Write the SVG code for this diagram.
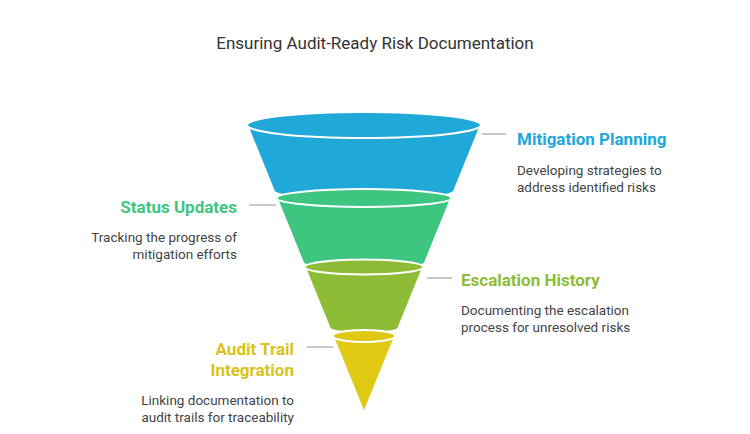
<svg xmlns="http://www.w3.org/2000/svg" width="750" height="434" viewBox="0 0 750 434">
<style>
text{font-family:Roboto,"Liberation Sans",sans-serif}
.h{font-size:17px;font-weight:bold}
.d{font-size:13.5px;fill:#444}
.seg{stroke:#fff;stroke-width:2}
.c{stroke:#c8c8c8;stroke-width:2;fill:none}
</style>
<rect width="750" height="434" fill="#fff"/>
<text x="375" y="49" text-anchor="middle" font-size="17" fill="#333">Ensuring Audit-Ready Risk Documentation</text>
<g id="connectors">
<line class="c" x1="482" y1="134" x2="506" y2="134"/>
<line class="c" x1="249" y1="205" x2="276" y2="205"/>
<line class="c" x1="427" y1="278" x2="452" y2="278"/>
<line class="c" x1="307" y1="347" x2="333" y2="347"/>
</g>
<g id="seg1">
<path class="seg" fill="#1fa8d8" d="M247,125 L273.4,190 A90.6,11 0 0 0 454.6,190 L481,125 Z"/>
<ellipse class="seg" fill="#1fa8d8" cx="364" cy="125" rx="117" ry="13"/>
</g>
<g id="seg2">
<path class="seg" fill="#3ec57f" d="M276.7,198 L302.7,262 A61.3,8 0 0 0 425.3,262 L451.3,198 Z"/>
<ellipse class="seg" fill="#3ec57f" cx="364" cy="198" rx="87.3" ry="9"/>
</g>
<g id="seg3">
<path class="seg" fill="#8fbc37" d="M304.7,267 L329.5,328 A34.5,5 0 0 0 398.5,328 L423.3,267 Z"/>
<ellipse class="seg" fill="#8fbc37" cx="364" cy="267" rx="59.3" ry="7.5"/>
</g>
<g id="seg4">
<path class="seg" fill="#dfc912" d="M332.7,336 L364,413 L395.3,336 Z"/>
<ellipse class="seg" fill="#dfc912" cx="364" cy="336" rx="31.3" ry="6"/>
</g>
<g id="label1">
<text class="h" x="517" y="145" fill="#22a7da">Mitigation Planning</text>
<text class="d" x="517" y="175">Developing strategies to</text>
<text class="d" x="517" y="192">address identified risks</text>
</g>
<g id="label2">
<text class="h" x="237" y="213" text-anchor="end" fill="#3ec57f">Status Updates</text>
<text class="d" x="237" y="242" text-anchor="end">Tracking the progress of</text>
<text class="d" x="237" y="259" text-anchor="end">mitigation efforts</text>
</g>
<g id="label3">
<text class="h" x="461" y="286" fill="#8fbc37">Escalation History</text>
<text class="d" x="461" y="315">Documenting the escalation</text>
<text class="d" x="461" y="332">process for unresolved risks</text>
</g>
<g id="label4">
<text class="h" x="294" y="355" text-anchor="end" fill="#d9c21a">Audit Trail</text>
<text class="h" x="294" y="376" text-anchor="end" fill="#d9c21a">Integration</text>
<text class="d" x="294" y="405" text-anchor="end">Linking documentation to</text>
<text class="d" x="294" y="422" text-anchor="end">audit trails for traceability</text>
</g>
</svg>
